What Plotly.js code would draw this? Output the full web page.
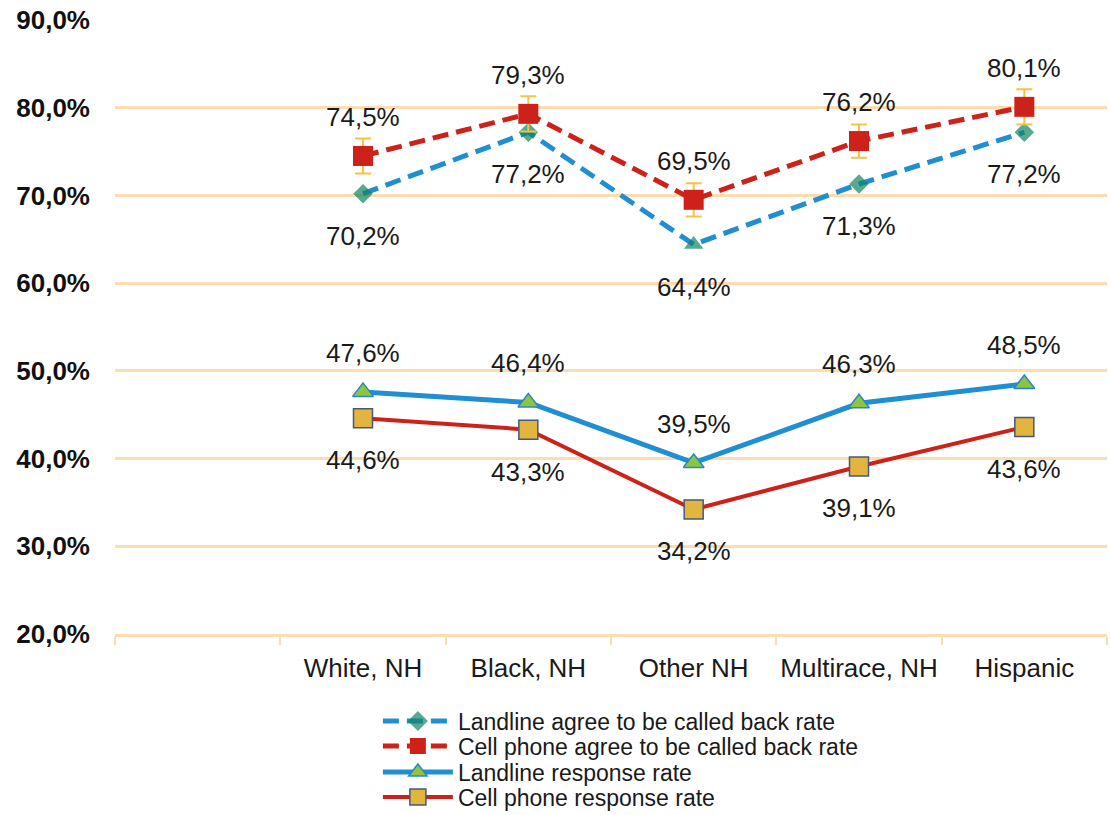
<!DOCTYPE html>
<html>
<head>
<meta charset="utf-8">
<script src="https://cdn.plot.ly/plotly-3.0.1.min.js"></script>
<style>
html,body{margin:0;padding:0;background:#fff;}
#chart{width:1110px;height:815px;}
</style>
</head>
<body>
<div id="chart"></div>
<script>
// ---- data ----
var categories = ["White, NH", "Black, NH", "Other NH", "Multirace, NH", "Hispanic"];
var landlineAgree = [70.2, 77.2, 64.4, 71.3, 77.2];
var cellAgree = [74.5, 79.3, 69.5, 76.2, 80.1];
var cellAgreeErr = [2.0, 2.0, 1.9, 1.9, 2.0];
var landlineResp = [47.6, 46.4, 39.5, 46.3, 48.5];
var cellResp = [44.6, 43.3, 34.2, 39.1, 43.6];
var seriesNames = ["Landline agree to be called back rate", "Cell phone agree to be called back rate", "Landline response rate", "Cell phone response rate"];
var yTicks = [20, 30, 40, 50, 60, 70, 80, 90];

// ---- build ----
var xs = categories.map(function (c, i) { return i + 1; });
var boundaries = [];
for (var b = 0; b <= categories.length + 1; b++) boundaries.push(b - 0.5);

var FONT = "Liberation Sans, Arial, Helvetica, sans-serif";
var BLUE = "#1f8fd2";
var RED = "#cc2219";
var GRID = "#fddcb0";

function fmt(v) { return v.toFixed(1).replace(".", ",") + "%"; }

var traces = [
  {
    x: xs, y: landlineAgree, name: seriesNames[0], type: "scatter", mode: "lines+markers", legend: "legend",
    line: {color: BLUE, width: 5, dash: "16px,8px"},
    marker: {symbol: ["diamond", "diamond", "triangle-up", "diamond", "diamond"], size: [15, 15, 17, 15, 15], color: "#0f8462", line: {width: 0}}
  },
  {
    x: xs, y: cellAgree, name: seriesNames[1], type: "scatter", mode: "lines+markers", legend: "legend2",
    line: {color: RED, width: 5, dash: "16px,8px"},
    marker: {symbol: "square", size: 20, color: RED, line: {width: 0}},
    error_y: {type: "data", array: cellAgreeErr, visible: true, color: "#f6c444", thickness: 2, width: 8}
  },
  {
    x: xs, y: landlineResp, name: seriesNames[2], type: "scatter", mode: "lines+markers", legend: "legend3",
    line: {color: BLUE, width: 5},
    marker: {symbol: "triangle-up", size: 18, color: "#8cc63e", line: {color: "#2a86c8", width: 1.5}}
  },
  {
    x: xs, y: cellResp, name: seriesNames[3], type: "scatter", mode: "lines+markers", legend: "legend4",
    line: {color: RED, width: 4},
    marker: {symbol: "square", size: 19, color: "#e2b440", line: {color: "#46597a", width: 1.5}}
  }
];

var annotations = [];
function addLabels(vals, shift) {
  vals.forEach(function (v, i) {
    annotations.push({
      x: xs[i], y: v, xref: "x", yref: "y", text: fmt(v), showarrow: false,
      yshift: shift, font: {family: FONT, size: 26, color: "#1a1a1a"}
    });
  });
}
addLabels(landlineAgree, -42);
addLabels(cellAgree, 39);
addLabels(landlineResp, 39);
addLabels(cellResp, -42);

function legendAt(py) {
  return {
    x: 0.265, xref: "paper", xanchor: "left",
    y: 1 - py / 815, yref: "container", yanchor: "middle",
    bgcolor: "rgba(0,0,0,0)", borderwidth: 0,
    font: {family: FONT, size: 23, color: "#1a1a1a"},
    itemwidth: 70
  };
}

var layout = {
  width: 1110, height: 815,
  margin: {l: 115, r: 3, t: 20, b: 181, pad: 0, autoexpand: false},
  paper_bgcolor: "#ffffff", plot_bgcolor: "#ffffff",
  separators: ",.",
  showlegend: true,
  font: {family: FONT, color: "#1a1a1a"},
  xaxis: {
    range: [-0.5, categories.length + 0.5],
    tickmode: "array", tickvals: xs, ticktext: categories,
    ticks: "", showgrid: false, zeroline: false,
    showline: true, linecolor: GRID, linewidth: 3,
    tickfont: {family: FONT, size: 26, color: "#1a1a1a"},
    ticklabelstandoff: 9,
    minor: {tickmode: "array", tickvals: boundaries, ticks: "outside", ticklen: 8, tickwidth: 2, tickcolor: GRID, showgrid: false},
    fixedrange: true
  },
  yaxis: {
    range: [20, 90],
    tickmode: "array", tickvals: yTicks, ticktext: yTicks.map(fmt),
    showgrid: true, gridcolor: GRID, gridwidth: 3,
    zeroline: false, showline: false, ticks: "",
    tickfont: {family: FONT, size: 26, color: "#111111", weight: "bold"},
    ticklabelstandoff: 24,
    fixedrange: true
  },
  legend: legendAt(721),
  legend2: legendAt(746),
  legend3: legendAt(772),
  legend4: legendAt(797),
  annotations: annotations
};

Plotly.newPlot("chart", traces, layout, {displayModeBar: false, staticPlot: true});
</script>
</body>
</html>
